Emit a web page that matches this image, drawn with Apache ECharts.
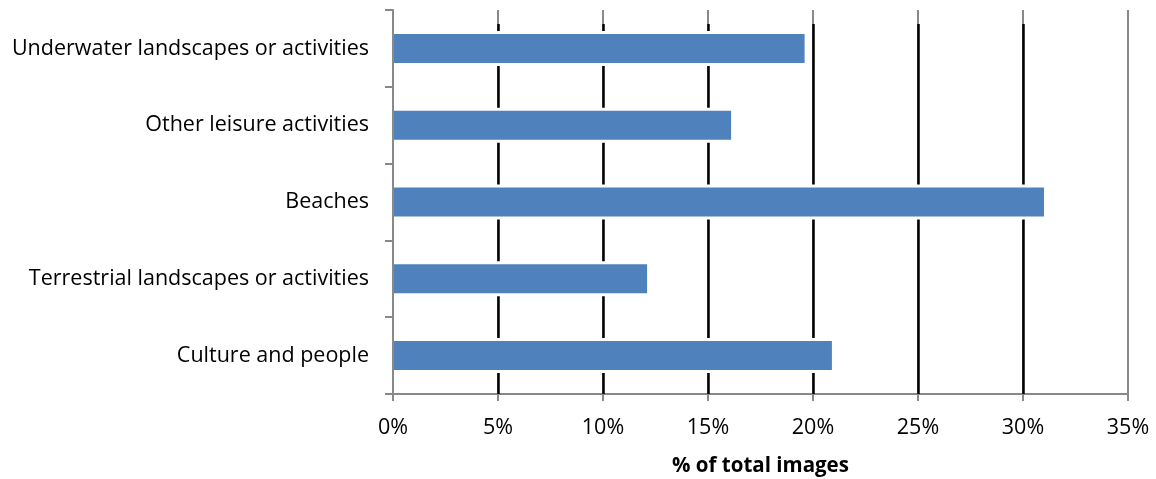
<!DOCTYPE html>
<html>
<head>
<meta charset="utf-8">
<script src="https://cdn.jsdelivr.net/npm/echarts@6/dist/echarts.min.js"></script>
<style>
  html, body { margin: 0; padding: 0; background: #fff; }
  #chart { width: 1156px; height: 479px; }
</style>
</head>
<body>
<div id="chart"></div>
<script>
// Share of total images per theme (%)
const categories = [
  'Underwater landscapes or activities',
  'Other leisure activities',
  'Beaches',
  'Terrestrial landscapes or activities',
  'Culture and people'
];
const shares = [19.6, 16.1, 31.0, 12.1, 20.9];
const axisMax = 35;
const axisStep = 5;

const FONT = '"Open Sans", sans-serif';
const GRAY = '#898989';
const PLOT = { left: 393, right: 28, top: 10, bottom: 85, outerBoundsMode: 'none', containLabel: false };

const chart = echarts.init(document.getElementById('chart'), null, { renderer: 'canvas' });

const hiddenValueAxis = (gridIndex, extra) => Object.assign({
  gridIndex,
  type: 'value',
  min: 0,
  max: axisMax,
  interval: axisStep,
  axisLine: { show: false },
  axisTick: { show: false },
  axisLabel: { show: false },
  splitLine: { show: false }
}, extra || {});

const hiddenCategoryAxis = gridIndex => ({
  gridIndex,
  type: 'category',
  data: categories,
  inverse: true,
  show: false
});

chart.setOption({
  animation: false,
  backgroundColor: '#ffffff',
  grid: [
    Object.assign({}, PLOT),
    // dark reference lines, starting a little below the top of the plot
    Object.assign({}, PLOT, { top: 24 }),
    // white band behind each bar, leaving a small gap in the reference lines
    Object.assign({}, PLOT)
  ],
  xAxis: [
    {
      gridIndex: 0,
      type: 'value',
      min: 0,
      max: axisMax,
      interval: axisStep,
      name: '% of total images',
      nameLocation: 'middle',
      nameGap: 62,
      nameTextStyle: { fontFamily: FONT, fontSize: 20.5, fontWeight: 'bold', color: '#000' },
      axisLine: { show: true, lineStyle: { color: GRAY, width: 2 } },
      axisTick: { show: true, length: 7, lineStyle: { color: GRAY, width: 2 } },
      axisLabel: {
        fontFamily: FONT, fontSize: 21.5, color: '#000', margin: 23,
        formatter: v => v + '%'
      },
      splitLine: { show: true, lineStyle: { color: GRAY, width: 2 } }
    },
    hiddenValueAxis(1, {
      z: 1,
      splitLine: {
        show: true,
        lineStyle: {
          width: 2.5,
          color: ['transparent', '#000', '#000', '#000', '#000', '#000', '#000', 'transparent']
        }
      }
    }),
    hiddenValueAxis(2)
  ],
  yAxis: [
    {
      gridIndex: 0,
      type: 'category',
      data: categories,
      inverse: true,
      z: 10,
      axisLine: { show: true, lineStyle: { color: GRAY, width: 2 } },
      axisTick: { show: true, length: 8, lineStyle: { color: GRAY, width: 2 } },
      axisLabel: {
        fontFamily: FONT, fontSize: 21.5, color: '#000', margin: 24,
        padding: [4, 0, 0, 0]
      },
      splitLine: { show: false }
    },
    hiddenCategoryAxis(1),
    hiddenCategoryAxis(2)
  ],
  series: [
    {
      type: 'bar',
      xAxisIndex: 2,
      yAxisIndex: 2,
      data: shares,
      barWidth: 35,
      itemStyle: { color: '#ffffff' },
      silent: true,
      z: 3
    },
    {
      type: 'bar',
      xAxisIndex: 0,
      yAxisIndex: 0,
      data: shares,
      barWidth: 29,
      itemStyle: { color: '#4f81bd' },
      z: 5
    }
  ]
});
</script>
</body>
</html>
